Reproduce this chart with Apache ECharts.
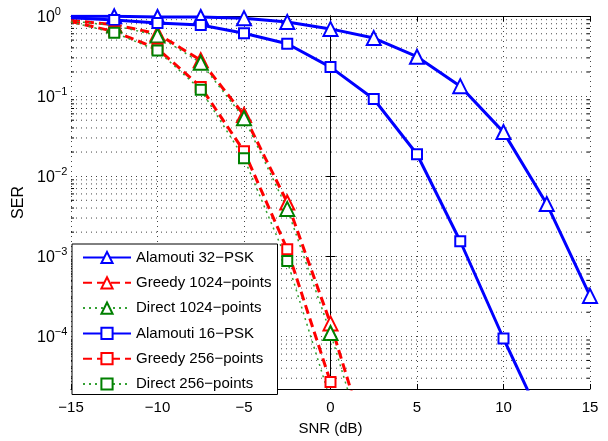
<!DOCTYPE html>
<html>
<head>
<meta charset="utf-8">
<script src="https://cdn.jsdelivr.net/npm/echarts@6/dist/echarts.min.js"></script>
<style>html,body{margin:0;padding:0;background:#fff;}#c{width:608px;height:441px;}</style>
</head>
<body>
<div id="c"></div>
<script>
// SNR values (dB)
const xSNR = [-15, -12.5, -10, -7.5, -5, -2.5, 0, 2.5, 5, 7.5, 10, 12.5, 15];
// SER values
const alamouti32 = [0.99, 0.99, 0.97, 0.97, 0.94, 0.84, 0.69, 0.53, 0.31, 0.133, 0.0355, 0.0045, 3.2e-4];
const greedy1024 = [0.88, 0.78, 0.60, 0.28, 0.058, 0.0047, 1.45e-4, 2.5e-6];
const direct1024 = [0.87, 0.76, 0.57, 0.26, 0.053, 0.0039, 1.1e-4, 1.8e-6];
const alamouti16 = [0.95, 0.89, 0.82, 0.77, 0.61, 0.45, 0.23, 0.092, 0.0188, 0.00154, 9.4e-5, 6.6e-6];
const greedy256 = [0.85, 0.64, 0.39, 0.13, 0.0205, 0.00122, 2.7e-5];
const direct256 = [0.84, 0.62, 0.37, 0.12, 0.0168, 0.00087, 1.6e-5];
const seriesNames = ['Alamouti 32\u2212PSK', 'Greedy 1024\u2212points', 'Direct 1024\u2212points',
                     'Alamouti 16\u2212PSK', 'Greedy 256\u2212points', 'Direct 256\u2212points'];
const xTicks = [-15, -10, -5, 0, 5, 10, 15];
const yMin = 2.2e-5, yMax = 1;

const BLUE = '#0000ff', RED = '#ff0000', GREEN = '#008000';
const FONT = 'Liberation Sans, Arial, Helvetica, sans-serif';

function pts(vals) {
  return vals.map((v, i) => xSNR[i] === -15
    ? { value: [xSNR[i], v], symbol: 'none' }
    : { value: [xSNR[i], v] });
}

// minor log grid values 2..9 x 10^k
const minorVals = [];
for (let k = -5; k <= -1; k++) {
  for (let m = 2; m <= 9; m++) {
    const v = m * Math.pow(10, k);
    if (v > yMin && v < yMax) minorVals.push([0, v]);
  }
}

function mkSeries(name, vals, color, dash, width, symbol, size, lineColor) {
  return {
    name: name, type: 'line', data: pts(vals), clip: true,
    xAxisIndex: 0, yAxisIndex: 0, z: 3,
    symbol: symbol, symbolSize: size, showAllSymbol: true,
    lineStyle: { color: lineColor || color, width: width, type: dash },
    itemStyle: { color: color, borderWidth: 2.5, borderColor: color },
    emphasis: { disabled: true },
    animation: false
  };
}

const dotted = { color: '#444', width: 1, type: [1, 4] };

const option = {
  animation: false,
  textStyle: { fontFamily: FONT },
  grid: { left: 71, top: 16, width: 519, height: 373, containLabel: false },
  legend: {
    orient: 'vertical', left: 72, top: 244,
    itemWidth: 48, itemHeight: 14, itemGap: 10.3,
    padding: [6, 6, 3, 10],
    backgroundColor: '#fff', borderColor: '#000', borderWidth: 1,
    textStyle: { fontSize: 15, color: '#000', fontFamily: FONT },
    data: seriesNames, selectedMode: false
  },
  xAxis: [{
    type: 'value', min: -15, max: 15, interval: 5, position: 'bottom',
    name: 'SNR (dB)', nameLocation: 'middle', nameGap: 32,
    nameTextStyle: { fontSize: 15, color: '#000', fontFamily: FONT },
    axisLine: { show: true, lineStyle: { color: '#000', width: 1 } },
    axisTick: { show: true, inside: true, length: 5, lineStyle: { color: '#000' } },
    axisLabel: { fontSize: 15, color: '#000', margin: 11, fontFamily: FONT,
      formatter: v => xTicks.includes(v) ? (v < 0 ? '\u2212' + Math.abs(v) : String(v)) : '' },
    splitLine: { show: true, lineStyle: dotted }
  }, {
    type: 'value', min: -15, max: 15, interval: 5, position: 'top',
    axisLine: { show: true, lineStyle: { color: '#000', width: 1 } },
    axisTick: { show: true, inside: true, length: 5, lineStyle: { color: '#000' } },
    axisLabel: { show: false }, splitLine: { show: false }
  }],
  yAxis: [{
    type: 'log', logBase: 10, min: yMin, max: yMax, position: 'left',
    name: 'SER', nameLocation: 'middle', nameGap: 43,
    nameTextStyle: { fontSize: 16, color: '#000', fontFamily: FONT },
    axisLine: { show: true, lineStyle: { color: '#000', width: 1 } },
    axisTick: { show: true, inside: true, length: 5, lineStyle: { color: '#000' } },
    axisLabel: {
      margin: 34, align: 'left', color: '#000', fontFamily: FONT,
      formatter: function (v) {
        const e = Math.log10(v), k = Math.round(e);
        if (Math.abs(e - k) > 1e-6) return '';
        const s = k < 0 ? '\u2212' + Math.abs(k) : String(k);
        return '{b|10}{s|' + s + '}';
      },
      rich: {
        b: { fontSize: 16, color: '#000', fontFamily: FONT, lineHeight: 19, verticalAlign: 'bottom' },
        s: { fontSize: 11, color: '#000', fontFamily: FONT, lineHeight: 19, verticalAlign: 'top' }
      }
    },
    splitLine: { show: true, lineStyle: dotted },
    minorTick: { show: false }
  }, {
    type: 'log', logBase: 10, min: yMin, max: yMax, position: 'right',
    axisLine: { show: true, lineStyle: { color: '#000', width: 1 } },
    axisTick: { show: true, inside: true, length: 5, lineStyle: { color: '#000' } },
    axisLabel: { show: false }, splitLine: { show: false }
  }],
  series: [
    {
      type: 'custom', name: 'minorgrid', coordinateSystem: 'cartesian2d',
      xAxisIndex: 0, yAxisIndex: 0, z: 1, silent: true,
      data: minorVals, encode: { x: 0, y: 1 },
      renderItem: function (params, api) {
        const cs = params.coordSys;
        const y = api.coord([0, api.value(1)])[1];
        return {
          type: 'group', children: [
            { type: 'line', shape: { x1: cs.x, y1: y, x2: cs.x + cs.width, y2: y },
              style: { stroke: '#444', lineWidth: 1, lineDash: [1, 4] } },
            { type: 'line', shape: { x1: cs.x, y1: y, x2: cs.x + 3, y2: y },
              style: { stroke: '#000', lineWidth: 1 } },
            { type: 'line', shape: { x1: cs.x + cs.width - 3, y1: y, x2: cs.x + cs.width, y2: y },
              style: { stroke: '#000', lineWidth: 1 } }
          ]
        };
      }
    },
    mkSeries(seriesNames[0], alamouti32, BLUE, 'solid', 3, 'emptyTriangle', 14),
    mkSeries(seriesNames[1], greedy1024, RED, [9, 5], 3, 'emptyTriangle', 14),
    mkSeries(seriesNames[2], direct1024, GREEN, [2, 4], 1.5, 'emptyTriangle', 14, '#33a033'),
    mkSeries(seriesNames[3], alamouti16, BLUE, 'solid', 3, 'emptyRect', 10),
    mkSeries(seriesNames[4], greedy256, RED, [9, 5], 3, 'emptyRect', 10),
    mkSeries(seriesNames[5], direct256, GREEN, [2, 4], 1.5, 'emptyRect', 10, '#33a033')
  ]
};

const chart = echarts.init(document.getElementById('c'), null, { renderer: 'canvas' });
chart.setOption(option);
</script>
</body>
</html>
